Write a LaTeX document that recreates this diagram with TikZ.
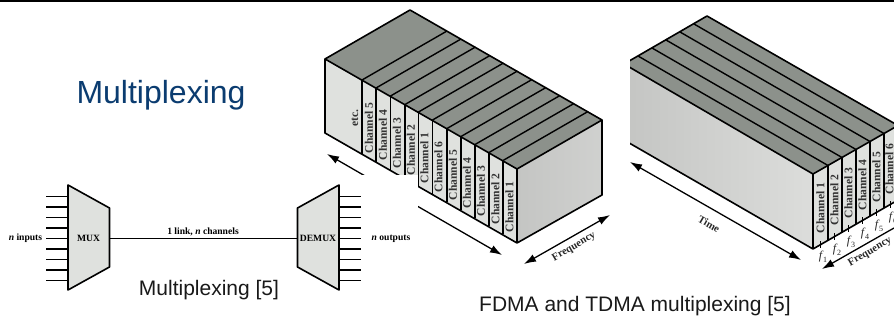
\documentclass[tikz,border=0pt]{standalone}
\usepackage{fontspec}
\usetikzlibrary{arrows.meta}
\setmainfont{Liberation Serif}
\newfontfamily\sansf{Liberation Sans}
\newcommand{\fsub}[1]{\textit{f}\kern-.5pt\raisebox{-3pt}{\fontsize{8pt}{8pt}\selectfont\upshape #1}}
\begin{document}
\begin{tikzpicture}[x=1pt,y=-1pt,
  boxedge/.style={draw=black,line width=1.6pt,line join=round},
  thinline/.style={draw=black,line width=1.4pt},
  wire/.style={draw=black,line width=1.2pt},
  topface/.style={fill=topgrey},
  lightface/.style={fill=lightgrey},
  chan/.style={font=\fontsize{11.6pt}{12pt}\selectfont\bfseries,rotate=90,text=black!80,inner sep=0pt},
  lab/.style={font=\fontsize{9.6pt}{10pt}\selectfont\bfseries,inner sep=0pt},
  ax/.style={font=\fontsize{10.6pt}{12pt}\selectfont\bfseries,text=black!85,inner sep=0pt},
  fi/.style={font=\fontsize{12pt}{13pt}\selectfont,text=black!85,inner sep=0pt},
  dbl/.style={draw=black,line width=1.3pt,{Latex[length=12pt,width=8pt]}-{Latex[length=12pt,width=8pt]}},
  captext/.style={font=\sansf\fontsize{21pt}{24pt}\selectfont,text=black!90,inner sep=0pt}]
\useasboundingbox (0,0) rectangle (894,320);
\definecolor{topgrey}{HTML}{8C918B}
\definecolor{lightgrey}{HTML}{DFE1DE}
\definecolor{sidea}{HTML}{C4C5C3}
\definecolor{sideb}{HTML}{DCDDDB}
\definecolor{titleblue}{HTML}{0B3C70}
\fill[black] (0,0) rectangle (894,2);
% ---------- left block
\coordinate (la) at (410,10);
\coordinate (lb) at (325,59);
\coordinate (lc) at (517,169);
\coordinate (ld) at (602,120);
\coordinate (le) at (517,243);
\coordinate (lf) at (602,195);
\coordinate (lg) at (325,133);
\path[topface] (la)--(lb)--(lc)--(ld)--cycle;
\path[lightface] (lb)--(lc)--(le)--(lg)--cycle;
\shade[left color=sidea,right color=sidea!80!white] (lc)--(ld)--(lf)--(le)--cycle;
\foreach \x/\t in {362/80,376/88,390.5/96,405/104.5,418.5/112,432.5/120,447/128.5,461/136.5,475/144.5,489/152.5,503/160.5}{
  \draw[thinline] (\x,\t) -- ++(85,-49);
  \draw[thinline] (\x,\t) -- ++(0,74);
}
\draw[boxedge] (la)--(lb)--(lc)--(ld)--cycle (lb)--(lg)--(le)--(lf)--(ld) (lc)--(le);
\node[chan] (l0) at (355,118) {etc.};
\node[chan] (l1) at (369,128) {Channel 5};
\node[chan] (l2) at (383,135) {Channel 4};
\node[chan] (l3) at (397,143) {Channel 3};
\node[chan] (l4) at (411,150) {Channel 2};
\node[chan] (l5) at (424.5,158) {Channel 1};
\node[chan] (l6) at (438.5,167) {Channel 6};
\node[chan] (l7) at (453,175) {Channel 5};
\node[chan] (l8) at (467,183) {Channel 4};
\node[chan] (l9) at (481,191) {Channel 3};
\node[chan] (l10) at (495.5,199) {Channel 2};
\node[chan] (l11) at (509.5,207) {Channel 1};
\coordinate (lt1) at (327,154);
\coordinate (lt2) at (502,255);
\draw[dbl] (lt1)--(lt2);
\node[ax,rotate=-30] (ltime) at (408,216) {Time};
\coordinate (lf1) at (524,264);
\coordinate (lf2) at (610,215);
\draw[dbl] (lf1)--(lf2);
\node[ax,rotate=30] (lfreq) at (574,247) {Frequency};
% ---------- white panel of the left figure
\fill[white] (0,175) rectangle (418,320);
% ---------- right block
\begin{scope}
\clip (630,0) rectangle (894,320);
\coordinate (ra) at (707,16);
\coordinate (rb) at (624,64);
\coordinate (rc) at (813,174);
\coordinate (rd) at (898,125.5);
\coordinate (re) at (813,249);
\coordinate (rl) at (624,140);
\coordinate (rr) at (898,200);
\path[topface] (ra)--(rb)--(rc)--(rd)--cycle;
\path[lightface] (rc)--(rd)--(rr)--(re)--cycle;
\shade[left color=sidea,right color=sideb] (rb)--(rc)--(re)--(rl)--cycle;
\foreach \x/\t in {828/165.5,842/157.5,856/149.5,870/141.5,884/133.5}{
  \draw[thinline] (\x,\t) -- ++(-190,-109.5);
  \draw[thinline] (\x,\t) -- ++(0,75);
}
\draw[boxedge] (ra)--(rb)--(rc)--(rd)--cycle (rc)--(re)--(rr) (rl)--(re);
\foreach \x/\t in {820.5/244.5,834.5/236.5,848.5/228.5,862.5/220.5,876.5/212.5,890.5/204.5}{
  \draw[black,line width=.5pt] (\x,\t-3) -- (\x,\t+4);
}
\end{scope}
\node[chan] (r1) at (820.5,208) {Channel 1};
\node[chan] (r2) at (834.5,200) {Channel 2};
\node[chan] (r3) at (848.5,193) {Channel 3};
\node[chan] (r4) at (862.5,185) {Channel 4};
\node[chan] (r5) at (876.5,177) {Channel 5};
\node[chan] (r6) at (889.5,169) {Channel 6};
\coordinate (rt1) at (630,162);
\coordinate (rt2) at (801,260);
\draw[dbl] (rt1)--(rt2);
\node[ax,rotate=-30] (rtime) at (709,224) {Time};
\coordinate (rf1) at (822,269);
\coordinate (rf2) at (894,228);
\draw[draw=black,line width=1.3pt,{Latex[length=12pt,width=8pt]}-] (rf1)--(rf2);
\node[ax,rotate=30] (rfreq) at (870,252) {Frequency};
\node[fi] (f1) at (823,257) {\fsub{1}};
\node[fi] (f2) at (837,249.5) {\fsub{2}};
\node[fi] (f3) at (851,241.5) {\fsub{3}};
\node[fi] (f4) at (865,233.5) {\fsub{4}};
\node[fi] (f5) at (879,225.5) {\fsub{5}};
\node[fi] (f6) at (893,217.5) {\fsub{6}};
% ---------- mux
\node[font=\sansf\fontsize{32pt}{36pt}\selectfont,text=titleblue,inner sep=0pt] (title) at (161,95) {Multiplexing};
\coordinate (m1) at (68,185);
\coordinate (m2) at (109.5,208);
\coordinate (m3) at (109.5,267);
\coordinate (m4) at (68,290);
\coordinate (d1) at (339,185);
\coordinate (d2) at (297.5,208);
\coordinate (d3) at (297.5,267);
\coordinate (d4) at (339,290);
\coordinate (lk1) at (109.5,238.5);
\coordinate (lk2) at (297.5,238.5);
\path[lightface] (m1)--(m2)--(m3)--(m4)--cycle;
\path[lightface] (d1)--(d2)--(d3)--(d4)--cycle;
\foreach \y in {196.5,207,217.5,228,238.5,249,259.5,270,280.5}{
  \draw[wire] (46,\y)--(68,\y);
  \draw[wire] (339,\y)--(361,\y);
}
\draw[boxedge] (m1)--(m2)--(m3)--(m4)--cycle;
\draw[boxedge] (d1)--(d2)--(d3)--(d4)--cycle;
\draw[thinline] (lk1)--(lk2);
\node[lab] (mux) at (88.5,238.5) {MUX};
\node[lab] (dmx) at (318,238.5) {DEMUX};
\node[lab] (inp) at (25.5,238.5) {\textit{n} inputs};
\node[lab] (oup) at (391,238.5) {\textit{n} outputs};
\node[lab] (link) at (203,232) {1 link, \textit{n} channels};
\node[captext] (c1) at (209,290) {Multiplexing [5]};
\node[captext] (c2) at (635,306) {FDMA and TDMA multiplexing [5]};
\end{tikzpicture}
\end{document}
